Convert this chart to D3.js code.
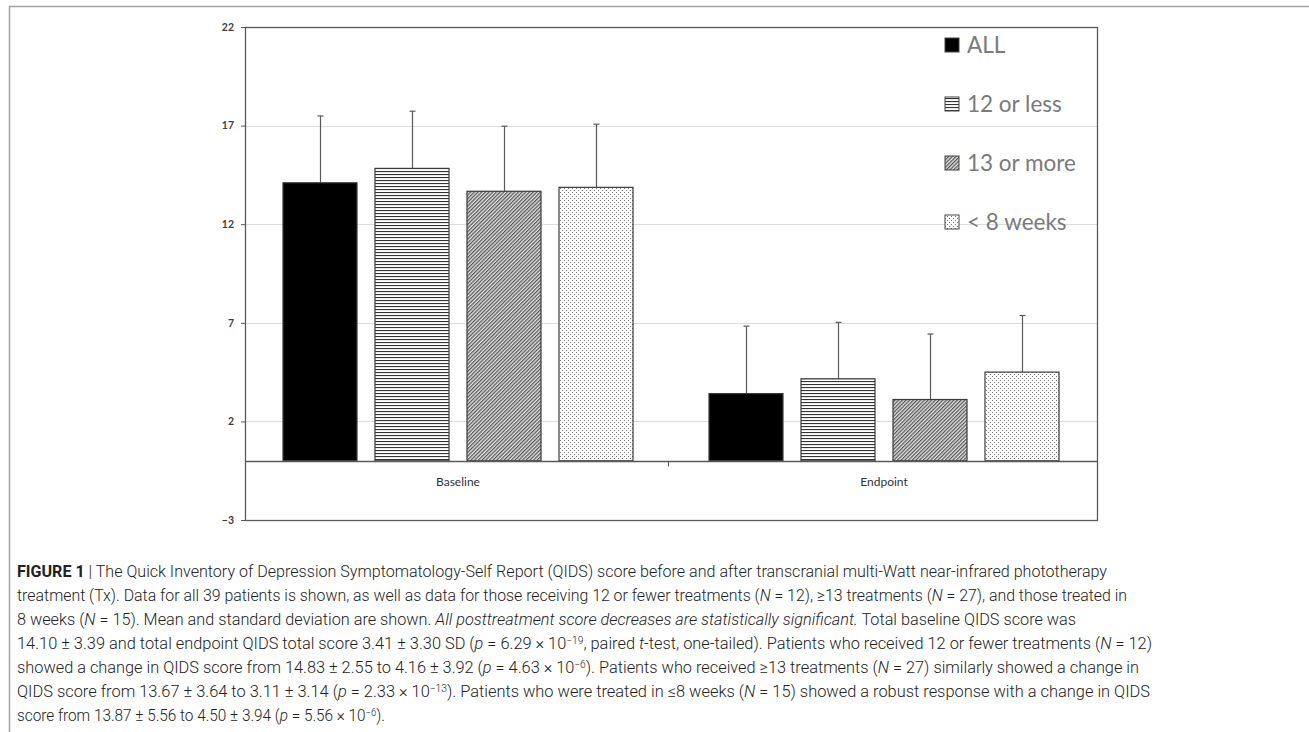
<!DOCTYPE html>
<html>
  <head>
    <meta charset="utf-8" />
    <script src="https://cdn.jsdelivr.net/npm/d3@7"></script>
    <style>
      body {
        margin: 0;
        background: #fff;
      }
      .tick text {
        font-family: Lato, "Open Sans", sans-serif;
        font-weight: bold;
        fill: #404040;
      }
    </style>
  </head>
  <body>
    <script>
      // values
      var groups = ["Baseline", "Endpoint"];
      var series = ["ALL", "12 or less", "13 or more", "< 8 weeks"];
      var baselineMeans = [14.1, 14.83, 13.67, 13.87];
      var baselineSD = [3.39, 2.9, 3.3, 3.2];
      var endpointMeans = [3.41, 4.16, 3.11, 4.5];
      var endpointSD = [3.42, 2.86, 3.32, 2.87];
      var yTicks = [22, 17, 12, 7, 2, -3];

      var captionLines = [
        [["b", "FIGURE 1"], ["", " | The Quick Inventory of Depression Symptomatology-Self Report (QIDS) score before and after transcranial multi-Watt near-infrared phototherapy"]],
        [["", "treatment (Tx). Data for all 39 patients is shown, as well as data for those receiving 12 or fewer treatments ("], ["i", "N"], ["", " = 12), ≥13 treatments ("], ["i", "N"], ["", " = 27), and those treated in"]],
        [["", "8 weeks ("], ["i", "N"], ["", " = 15). Mean and standard deviation are shown. "], ["i", "All posttreatment score decreases are statistically significant."], ["", " Total baseline QIDS score was"]],
        [["", "14.10 ± 3.39 and total endpoint QIDS total score 3.41 ± 3.30 SD ("], ["i", "p"], ["", " = 6.29 × 10"], ["s", "−19"], ["", ", paired "], ["i", "t"], ["", "-test, one-tailed). Patients who received 12 or fewer treatments ("], ["i", "N"], ["", " = 12)"]],
        [["", "showed a change in QIDS score from 14.83 ± 2.55 to 4.16 ± 3.92 ("], ["i", "p"], ["", " = 4.63 × 10"], ["s", "−6"], ["", "). Patients who received ≥13 treatments ("], ["i", "N"], ["", " = 27) similarly showed a change in"]],
        [["", "QIDS score from 13.67 ± 3.64 to 3.11 ± 3.14 ("], ["i", "p"], ["", " = 2.33 × 10"], ["s", "−13"], ["", "). Patients who were treated in ≤8 weeks ("], ["i", "N"], ["", " = 15) showed a robust response with a change in QIDS"]],
        [["", "score from 13.87 ± 5.56 to 4.50 ± 3.94 ("], ["i", "p"], ["", " = 5.56 × 10"], ["s", "−6"], ["", ")."]]
      ];
      var captionEnds = [1107, 1127, 1076, 1152, 1139, 1150, 385];

      var width = 1309,
        height = 732;
      var plot = { left: 245, right: 1097, top: 27, bottom: 520 };

      var svg = d3
        .select("body")
        .append("svg")
        .attr("width", width)
        .attr("height", height);

      // patterns
      var defs = svg.append("defs");
      var pHoriz = defs
        .append("pattern")
        .attr("id", "p-horiz")
        .attr("patternUnits", "userSpaceOnUse")
        .attr("width", 4)
        .attr("height", 3);
      pHoriz.append("rect").attr("width", 4).attr("height", 3).attr("fill", "#fff");
      pHoriz.append("rect").attr("width", 4).attr("height", 1.1).attr("fill", "#333");

      var pDiag = defs
        .append("pattern")
        .attr("id", "p-diag")
        .attr("patternUnits", "userSpaceOnUse")
        .attr("width", 2.6)
        .attr("height", 2.6)
        .attr("patternTransform", "rotate(45)");
      pDiag.append("rect").attr("width", 2.6).attr("height", 2.6).attr("fill", "#e0e0e0");
      pDiag.append("rect").attr("width", 1.2).attr("height", 2.6).attr("fill", "#555");

      var pDots = defs
        .append("pattern")
        .attr("id", "p-dots")
        .attr("patternUnits", "userSpaceOnUse")
        .attr("width", 4)
        .attr("height", 4);
      pDots.append("rect").attr("width", 4).attr("height", 4).attr("fill", "#fff");
      pDots.append("rect").attr("x", 0).attr("y", 0).attr("width", 1).attr("height", 1).attr("fill", "#777");
      pDots.append("rect").attr("x", 2).attr("y", 2).attr("width", 1).attr("height", 1).attr("fill", "#777");

      var fills = ["#000", "url(#p-horiz)", "url(#p-diag)", "url(#p-dots)"];

      // outer figure frame
      svg
        .append("path")
        .attr("d", "M9.5," + height + "V6.5H" + width)
        .attr("fill", "none")
        .attr("stroke", "#a3a3a3")
        .attr("stroke-width", 1.5);

      var y = d3.scaleLinear().domain([-3, 22]).range([plot.bottom, plot.top]);
      var x0 = d3.scaleBand().domain(groups).range([plot.left, plot.right]);
      var x1 = d3
        .scaleBand()
        .domain(series)
        .range([0, x0.bandwidth()])
        .paddingInner(0.1957)
        .paddingOuter(0.413);

      // gridlines
      svg
        .append("g")
        .selectAll("line")
        .data(yTicks.filter(function (d) {
          return d !== 22 && d !== -3;
        }))
        .enter()
        .append("line")
        .attr("x1", plot.left)
        .attr("x2", plot.right)
        .attr("y1", function (d) {
          return Math.round(y(d)) + 0.5;
        })
        .attr("y2", function (d) {
          return Math.round(y(d)) + 0.5;
        })
        .attr("stroke", "#dcdcdc");

      // y axis
      var yAxis = svg
        .append("g")
        .attr("transform", "translate(" + plot.left + ",0)")
        .call(d3.axisLeft(y).tickValues(yTicks).tickSize(4).tickPadding(7));
      yAxis.select(".domain").remove();
      yAxis.selectAll(".tick line").attr("stroke", "#595959");
      yAxis.selectAll(".tick text").attr("font-size", 10.5);

      var data = [];
      groups.forEach(function (g, gi) {
        series.forEach(function (s, si) {
          data.push({
            group: g,
            series: s,
            idx: si,
            mean: gi === 0 ? baselineMeans[si] : endpointMeans[si],
            sd: gi === 0 ? baselineSD[si] : endpointSD[si],
          });
        });
      });

      // error bars (upper only)
      var err = svg.append("g").attr("stroke", "#595959").attr("stroke-width", 1.2);
      data.forEach(function (d) {
        var cx = Math.round(x0(d.group) + x1(d.series) + x1.bandwidth() / 2) + 0.5;
        err
          .append("line")
          .attr("x1", cx)
          .attr("x2", cx)
          .attr("y1", y(d.mean))
          .attr("y2", y(d.mean + d.sd));
        err
          .append("line")
          .attr("x1", cx - 3)
          .attr("x2", cx + 3)
          .attr("y1", y(d.mean + d.sd))
          .attr("y2", y(d.mean + d.sd));
      });

      // bars
      svg
        .append("g")
        .selectAll("rect")
        .data(data)
        .enter()
        .append("rect")
        .attr("x", function (d) {
          return x0(d.group) + x1(d.series);
        })
        .attr("y", function (d) {
          return y(d.mean);
        })
        .attr("width", x1.bandwidth())
        .attr("height", function (d) {
          return y(0) - y(d.mean);
        })
        .attr("fill", function (d) {
          return fills[d.idx];
        })
        .attr("stroke", "#3a3a3a")
        .attr("stroke-width", 1.2);

      // plot frame
      svg
        .append("rect")
        .attr("x", plot.left + 0.5)
        .attr("y", plot.top + 0.5)
        .attr("width", plot.right - plot.left)
        .attr("height", plot.bottom - plot.top)
        .attr("fill", "none")
        .attr("stroke", "#595959")
        .attr("stroke-width", 1.3);

      // category axis at zero
      var xAxisY = Math.round(y(0)) + 0.5;
      svg
        .append("line")
        .attr("x1", plot.left)
        .attr("x2", plot.right)
        .attr("y1", xAxisY)
        .attr("y2", xAxisY)
        .attr("stroke", "#595959")
        .attr("stroke-width", 1.3);
      svg
        .append("line")
        .attr("x1", x0("Endpoint") - 2.5)
        .attr("x2", x0("Endpoint") - 2.5)
        .attr("y1", xAxisY)
        .attr("y2", xAxisY + 5)
        .attr("stroke", "#595959");
      svg
        .append("g")
        .selectAll("text")
        .data(groups)
        .enter()
        .append("text")
        .attr("x", function (d) {
          return x0(d) + x0.bandwidth() / 2;
        })
        .attr("y", xAxisY + 24)
        .attr("text-anchor", "middle")
        .attr("font-family", "Lato, 'Open Sans', sans-serif")
        .attr("font-size", 12)
        .attr("fill", "#333")
        .text(function (d) {
          return d;
        });

      // legend
      var legend = svg
        .append("g")
        .selectAll("g")
        .data(series)
        .enter()
        .append("g")
        .attr("transform", function (d, i) {
          return "translate(945," + (45 + i * 59) + ")";
        });
      legend
        .append("rect")
        .attr("x", 0)
        .attr("y", -7)
        .attr("width", 14)
        .attr("height", 14)
        .attr("fill", function (d, i) {
          return fills[i];
        })
        .attr("stroke", "#444")
        .attr("stroke-width", 1);
      legend
        .append("text")
        .attr("x", 22)
        .attr("y", 8)
        .attr("font-family", "Lato, 'Open Sans', sans-serif")
        .attr("font-size", 22.5)
        .attr("fill", "#7a7a7a")
        .text(function (d) {
          return d;
        });

      // caption
      var cap = svg.append("g");
      captionLines.forEach(function (line, li) {
        var t = cap
          .append("text")
          .attr("x", 17)
          .attr("y", 577 + li * 24)
          .attr("font-family", "Roboto, 'Liberation Sans', sans-serif")
          .attr("font-weight", 300)
          .attr("font-size", 16)
          .attr("fill", "#222");
        line.forEach(function (part) {
          var sp = t.append("tspan").text(part[1]);
          if (part[0] === "b") sp.attr("font-weight", "bold");
          if (part[0] === "i") sp.attr("font-style", "italic");
          if (part[0] === "s") sp.attr("font-size", 10).attr("baseline-shift", "super");
        });
        var target = captionEnds[li] - 17;
        var w = t.node().getComputedTextLength();
        if (Math.abs(w - target) > 2) {
          t.attr("textLength", target).attr("lengthAdjust", "spacingAndGlyphs");
        }
      });
    </script>
  </body>
</html>
